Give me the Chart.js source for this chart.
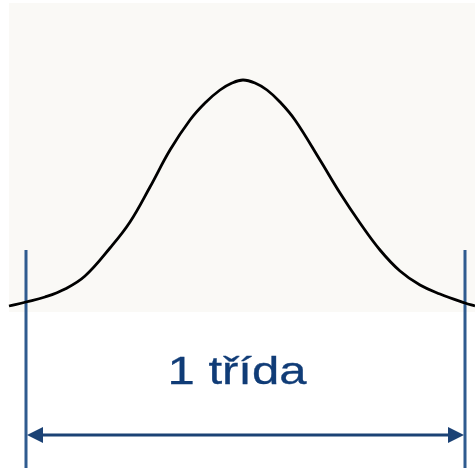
<!DOCTYPE html>
<html>
<head>
<meta charset="utf-8">
<script src="https://cdn.jsdelivr.net/npm/chart.js@4/dist/chart.umd.min.js"></script>
<style>
  html, body { margin: 0; padding: 0; background: #ffffff; }
  #graf { display: block; }
</style>
</head>
<body>
<canvas id="graf" width="475" height="468"></canvas>
<script>
// bell curve (x position, height above the bottom edge)
var curveX = [9, 26, 45, 65, 85, 110, 130, 150, 170, 190, 205, 220, 232, 243, 255, 267, 280, 295, 320, 340, 360, 380, 400, 420, 440, 465, 475];
var curveY = [162, 166, 171, 179, 192, 220, 246, 281, 318, 348, 365, 378, 385, 388, 385, 378, 366, 348, 308, 275, 245, 218, 197, 183, 174, 165, 162];

// class limits and the width marker between them
var classLimits = [26, 465];
var limitTop = 218;
var arrowLevel = 33;
var classLabel = '1 třída';
var labelLevel = 84;

// shaded plot area behind the curve
var areaX = [9, 475];
var areaY = [156, 465];

function pts(xs, ys) {
  return xs.map(function (x, i) { return { x: x, y: ys[i] }; });
}

var datasets = [
  {
    data: pts(curveX, curveY),
    borderColor: '#000000',
    borderWidth: 2.8,
    pointRadius: 0,
    tension: 0.4,
    fill: false
  }
];
classLimits.forEach(function (x) {
  datasets.push({
    data: [{ x: x, y: limitTop }, { x: x, y: 0 }],
    borderColor: '#2f5b8f',
    borderWidth: 3,
    pointRadius: 0
  });
});
datasets.push({
  data: [{ x: classLimits[0] + 10, y: arrowLevel }, { x: classLimits[1] - 10, y: arrowLevel }],
  borderColor: '#1b4275',
  borderWidth: 3,
  pointRadius: 0
});

// background band, arrow heads and the label
var extras = {
  id: 'extras',
  beforeDatasetsDraw: function (chart) {
    var ctx = chart.ctx, sx = chart.scales.x, sy = chart.scales.y;
    var x0 = sx.getPixelForValue(areaX[0]), x1 = sx.getPixelForValue(areaX[1]);
    var y0 = sy.getPixelForValue(areaY[1]), y1 = sy.getPixelForValue(areaY[0]);
    ctx.save();
    ctx.fillStyle = '#faf9f6';
    ctx.fillRect(x0, y0, x1 - x0, y1 - y0);
    ctx.restore();
  },
  afterDatasetsDraw: function (chart) {
    var ctx = chart.ctx, sx = chart.scales.x, sy = chart.scales.y;
    var ya = sy.getPixelForValue(arrowLevel);
    var xl = sx.getPixelForValue(classLimits[0]) + 1;
    var xr = sx.getPixelForValue(classLimits[1]) - 1;
    ctx.save();
    ctx.fillStyle = '#1b4275';
    ctx.beginPath();
    ctx.moveTo(xl, ya);
    ctx.lineTo(xl + 16, ya - 8);
    ctx.lineTo(xl + 16, ya + 8);
    ctx.closePath();
    ctx.fill();
    ctx.beginPath();
    ctx.moveTo(xr, ya);
    ctx.lineTo(xr - 16, ya - 8);
    ctx.lineTo(xr - 16, ya + 8);
    ctx.closePath();
    ctx.fill();

    // label is a bit wider than plain Arial
    ctx.font = '38px "Liberation Sans", Arial, sans-serif';
    ctx.fillStyle = '#103c77';
    ctx.strokeStyle = '#103c77';
    ctx.lineWidth = 0.3;
    ctx.textAlign = 'center';
    ctx.textBaseline = 'alphabetic';
    var w = ctx.measureText(classLabel).width;
    var stretch = 139 / w;
    ctx.translate(237, sy.getPixelForValue(labelLevel));
    ctx.scale(stretch, 1);
    ctx.fillText(classLabel, 0, 0);
    ctx.strokeText(classLabel, 0, 0);
    ctx.restore();
  }
};

new Chart(document.getElementById('graf'), {
  type: 'line',
  data: { datasets: datasets },
  options: {
    responsive: false,
    animation: false,
    layout: { padding: 0 },
    plugins: { legend: { display: false }, tooltip: { enabled: false } },
    scales: {
      x: { type: 'linear', min: 0, max: 475, display: false },
      y: { type: 'linear', min: 0, max: 468, display: false }
    }
  },
  plugins: [extras]
});
</script>
</body>
</html>
